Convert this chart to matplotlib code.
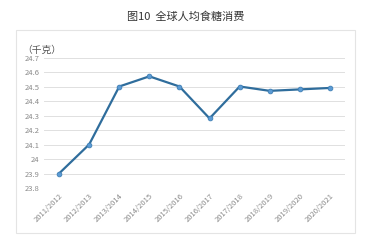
import matplotlib.pyplot as plt
from matplotlib.patches import Rectangle
from matplotlib.ticker import FuncFormatter

plt.rcParams['font.family'] = ['Noto Sans CJK SC', 'DejaVu Sans']

years = ['2011/2012', '2012/2013', '2013/2014', '2014/2015', '2015/2016',
         '2016/2017', '2017/2018', '2018/2019', '2019/2020', '2020/2021']
consumption = [23.9, 24.1, 24.5, 24.57, 24.5, 24.28, 24.5, 24.47, 24.48, 24.49]
yticks = [23.8, 23.9, 24.0, 24.1, 24.2, 24.3, 24.4, 24.5, 24.6, 24.7]

fig = plt.figure(figsize=(3.67, 2.44), dpi=100)
fig.patch.set_facecolor('white')

# outer chart frame
fig.patches.append(Rectangle((16 / 367, 1 - 233 / 244), 339 / 367, 203 / 244,
                             transform=fig.transFigure, fill=False,
                             edgecolor='#e4e4e4', linewidth=0.8))

fig.text(0.505, 1 - 17 / 244, '图10  全球人均食糖消费', ha='center', va='center',
         fontsize=8, color='#333333')

ax = fig.add_axes([44 / 367, 1 - 188 / 244, 301 / 367, 130.5 / 244])
x = list(range(len(years)))
ax.plot(x, consumption, color='#2f6d9c', linewidth=1.6, marker='o',
        markersize=3.4, markerfacecolor='#5b9bd5', markeredgecolor='#3f7fb5',
        markeredgewidth=0.6, zorder=3)

ax.set_xlim(-0.5, len(years) - 0.5)
ax.set_ylim(23.8, 24.7)
ax.set_yticks(yticks)
ax.yaxis.set_major_formatter(FuncFormatter(lambda v, p: '%g' % round(v, 1)))
ax.set_xticks(x)
ax.set_xticklabels(years, rotation=45, ha='right', rotation_mode='anchor')
ax.tick_params(axis='both', length=0, labelsize=5.5, colors='#8a8a8a', pad=3)
ax.grid(axis='y', color='#e0e0e0', linewidth=0.7)
ax.set_axisbelow(True)
for s in ax.spines.values():
    s.set_visible(False)

fig.text(22 / 367, 1 - 50 / 244, '（千克）', ha='left', va='center',
         fontsize=7, color='#555555')

plt.savefig('out.png', dpi=100)
